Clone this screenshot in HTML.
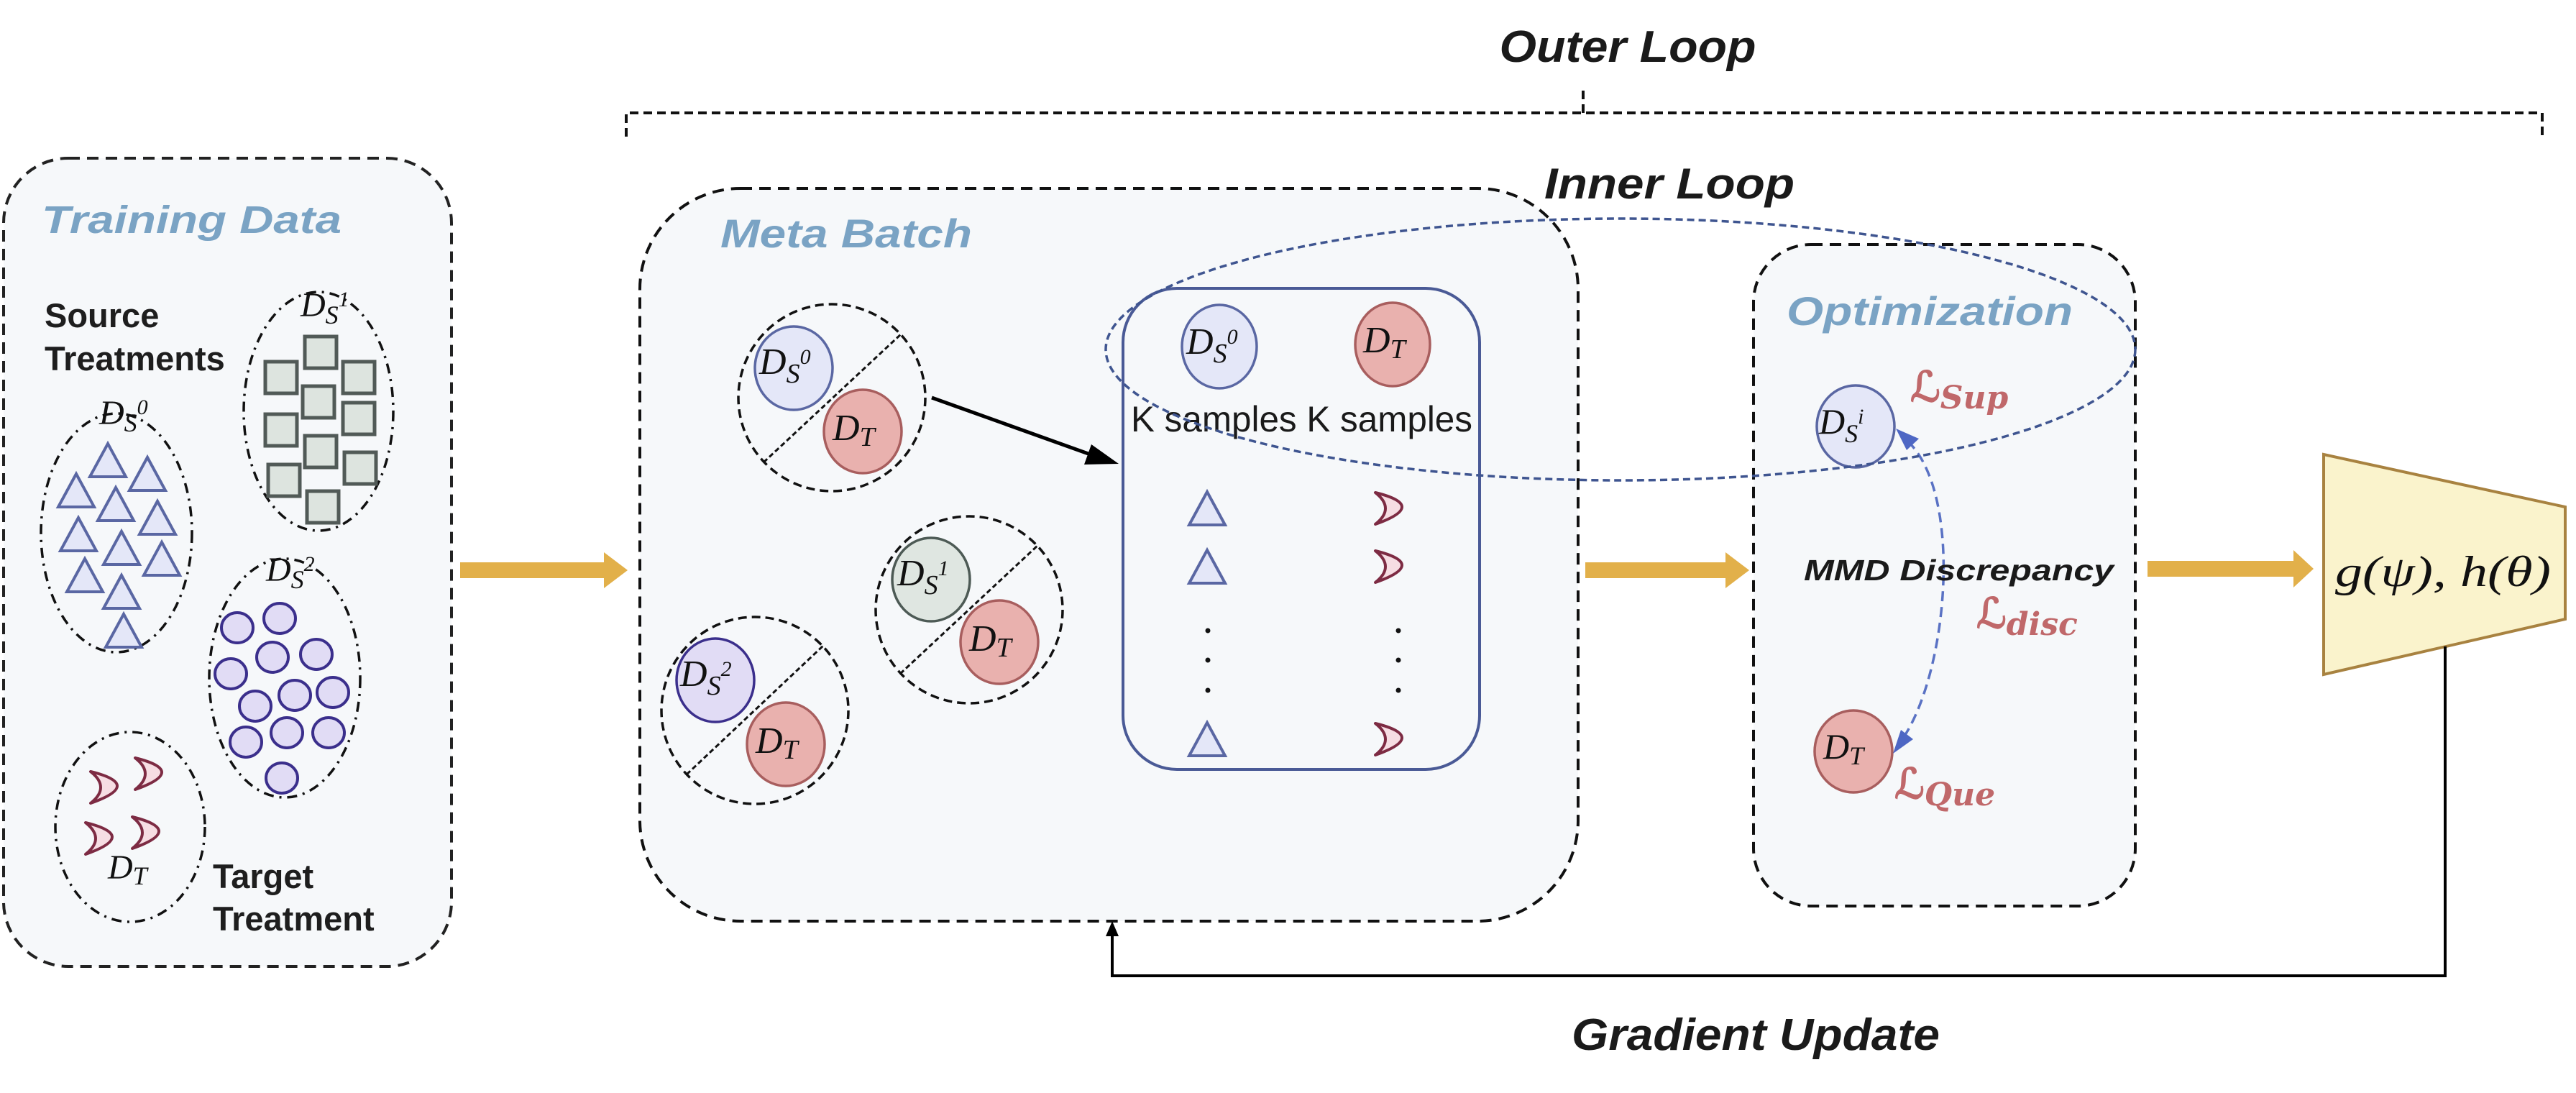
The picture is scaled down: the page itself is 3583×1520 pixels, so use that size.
<!DOCTYPE html>
<html><head><meta charset="utf-8"><style>
html,body{margin:0;padding:0;background:#fff;}
svg{display:block;}
.h{font-family:"Liberation Sans",sans-serif;font-weight:bold;font-style:italic;}
.m{font-family:"Liberation Serif",serif;font-style:italic;}
</style></head><body>
<svg width="3583" height="1520" viewBox="0 0 3583 1520" xmlns="http://www.w3.org/2000/svg">
<defs>
<polygon id="tri" points="0,-23 25,23 -25,23" fill="#e4e7f8" stroke="#5a67a3" stroke-width="4"/>
<path id="moon" d="M-26,-22 Q48,-4 -26,22 Q2,0 -26,-22 Z" fill="#f6dde3" stroke="#7d2b43" stroke-width="4" stroke-linejoin="round"/>
<rect id="sq" x="-22" y="-22" width="44" height="44" fill="#dde4df" stroke="#515a57" stroke-width="5"/>
<ellipse id="cir" rx="22" ry="21" fill="#e1dcf5" stroke="#3b2f8c" stroke-width="4"/>
</defs>

<!-- Outer loop -->
<text class="h" x="2264" y="86" font-size="62" text-anchor="middle" fill="#1a1a1a" textLength="357" lengthAdjust="spacingAndGlyphs">Outer Loop</text>
<path d="M871,190 L871,157 L3536,157 L3536,190 M2202,157 L2202,123" fill="none" stroke="#111" stroke-width="4" stroke-dasharray="12,7"/>

<!-- Training data -->
<rect x="5" y="220" width="623" height="1124" rx="90" fill="#f6f8fa" stroke="#222" stroke-width="4" stroke-dasharray="16,10"/>
<text class="h" x="58" y="324" font-size="54" fill="#7aa3c4" textLength="417" lengthAdjust="spacingAndGlyphs">Training Data</text>
<text font-family="Liberation Sans,sans-serif" font-weight="bold" font-size="47" fill="#1e1e1e" x="62" y="455">Source</text>
<text font-family="Liberation Sans,sans-serif" font-weight="bold" font-size="47" fill="#1e1e1e" x="62" y="515">Treatments</text>
<text font-family="Liberation Sans,sans-serif" font-weight="bold" font-size="47" fill="#1e1e1e" x="296" y="1235">Target</text>
<text font-family="Liberation Sans,sans-serif" font-weight="bold" font-size="47" fill="#1e1e1e" x="296" y="1294">Treatment</text>

<g fill="none" stroke="#111" stroke-width="3.5" stroke-dasharray="14,8,3,8">
<ellipse cx="443" cy="572" rx="104" ry="166"/>
<ellipse cx="162" cy="741" rx="105" ry="166"/>
<ellipse cx="396" cy="943" rx="105" ry="166"/>
<ellipse cx="181" cy="1150" rx="104" ry="132"/>
</g>
<g class="m" font-size="48" fill="#111">
<text x="418" y="440">D<tspan font-size="36" dy="10">S</tspan><tspan font-size="30" dy="-24">1</tspan></text>
<text x="138" y="590">D<tspan font-size="36" dy="10">S</tspan><tspan font-size="30" dy="-24">0</tspan></text>
<text x="370" y="808">D<tspan font-size="36" dy="10">S</tspan><tspan font-size="30" dy="-24">2</tspan></text>
<text x="150" y="1222">D<tspan font-size="36" dy="8">T</tspan></text>
</g>
<g>
<use href="#sq" x="391" y="525"/><use href="#sq" x="446" y="490"/><use href="#sq" x="499" y="525"/>
<use href="#sq" x="443" y="559"/><use href="#sq" x="499" y="582"/><use href="#sq" x="391" y="598"/>
<use href="#sq" x="446" y="628"/><use href="#sq" x="501" y="651"/><use href="#sq" x="395" y="668"/>
<use href="#sq" x="449" y="705"/>
</g>
<g>
<use href="#tri" x="150" y="640"/><use href="#tri" x="205" y="659"/><use href="#tri" x="106" y="682"/>
<use href="#tri" x="161" y="701"/><use href="#tri" x="219" y="720"/><use href="#tri" x="109" y="743"/>
<use href="#tri" x="169" y="762"/><use href="#tri" x="225" y="777"/><use href="#tri" x="118" y="800"/>
<use href="#tri" x="169" y="823"/><use href="#tri" x="172" y="877"/>
</g>
<g>
<use href="#cir" x="330" y="873"/><use href="#cir" x="389" y="860"/><use href="#cir" x="379" y="914"/>
<use href="#cir" x="440" y="910"/><use href="#cir" x="321" y="937"/><use href="#cir" x="355" y="982"/>
<use href="#cir" x="410" y="967"/><use href="#cir" x="463" y="963"/><use href="#cir" x="342" y="1032"/>
<use href="#cir" x="399" y="1019"/><use href="#cir" x="457" y="1019"/><use href="#cir" x="392" y="1082"/>
</g>
<g>
<use href="#moon" x="152" y="1095"/><use href="#moon" x="214" y="1076"/>
<use href="#moon" x="145" y="1166"/><use href="#moon" x="210" y="1158"/>
</g>

<!-- yellow arrows -->
<g fill="#e2b04a">
<polygon points="640,782 840,782 840,768 873,793 840,818 840,804 640,804"/>
<polygon points="2205,782 2400,782 2400,768 2433,793 2400,818 2400,804 2205,804"/>
<polygon points="2987,780 3190,780 3190,765 3218,791 3190,817 3190,802 2987,802"/>
</g>

<!-- Meta batch -->
<rect x="890" y="262" width="1305" height="1019" rx="140" fill="#f6f8fa" stroke="#111" stroke-width="4" stroke-dasharray="16,10"/>
<text class="h" x="1002" y="344" font-size="56" fill="#7aa3c4" textLength="350" lengthAdjust="spacingAndGlyphs">Meta Batch</text>

<g fill="none" stroke="#111" stroke-width="3.5" stroke-dasharray="12,7">
<circle cx="1157" cy="553" r="130"/>
<circle cx="1348" cy="848" r="130"/>
<circle cx="1050" cy="988" r="130"/>
</g>
<g stroke="#111" stroke-width="3" stroke-dasharray="7,4">
<line x1="1062" y1="643" x2="1254" y2="464"/>
<line x1="1252" y1="937" x2="1444" y2="758"/>
<line x1="955" y1="1077" x2="1145" y2="898"/>
</g>
<g stroke-width="3.5">
<ellipse cx="1104" cy="512" rx="54" ry="58" fill="#e4e7f8" stroke="#5a67a3"/>
<ellipse cx="1200" cy="600" rx="54" ry="58" fill="#e9b1ae" stroke="#a85e5e"/>
<ellipse cx="1295" cy="806" rx="54" ry="58" fill="#dfe6e1" stroke="#4d5a55"/>
<ellipse cx="1390" cy="893" rx="54" ry="58" fill="#e9b1ae" stroke="#a85e5e"/>
<ellipse cx="995" cy="946" rx="54" ry="58" fill="#e1dcf5" stroke="#3b2f8c"/>
<ellipse cx="1093" cy="1035" rx="54" ry="58" fill="#e9b1ae" stroke="#a85e5e"/>
</g>
<g class="m" font-size="52" fill="#111">
<text x="1056" y="520">D<tspan font-size="38" dy="12">S</tspan><tspan font-size="30" dy="-26">0</tspan></text>
<text x="1158" y="612">D<tspan font-size="38" dy="8">T</tspan></text>
<text x="1248" y="814">D<tspan font-size="38" dy="12">S</tspan><tspan font-size="30" dy="-26">1</tspan></text>
<text x="1348" y="905">D<tspan font-size="38" dy="8">T</tspan></text>
<text x="946" y="954">D<tspan font-size="38" dy="12">S</tspan><tspan font-size="30" dy="-26">2</tspan></text>
<text x="1051" y="1047">D<tspan font-size="38" dy="8">T</tspan></text>
</g>
<line x1="1296" y1="553" x2="1525" y2="635" stroke="#000" stroke-width="5"/>
<path d="M1518,618 L1556,645 L1508,646 Z" fill="#000"/>

<!-- K box -->
<rect x="1562" y="401" width="496" height="669" rx="75" fill="none" stroke="#4a5a96" stroke-width="4"/>
<ellipse cx="1696" cy="482" rx="52" ry="58" fill="#e4e7f8" stroke="#5a67a3" stroke-width="3.5"/>
<ellipse cx="1937" cy="479" rx="52" ry="58" fill="#e9b1ae" stroke="#a85e5e" stroke-width="3.5"/>
<g class="m" font-size="52" fill="#111">
<text x="1650" y="492">D<tspan font-size="38" dy="12">S</tspan><tspan font-size="30" dy="-26">0</tspan></text>
<text x="1896" y="490">D<tspan font-size="38" dy="8">T</tspan></text>
</g>
<text font-family="Liberation Sans,sans-serif" font-size="50" fill="#1a1a1a" x="1573" y="600" textLength="475" lengthAdjust="spacingAndGlyphs">K samples K samples</text>
<use href="#tri" x="1679" y="707"/><use href="#tri" x="1679" y="788"/><use href="#tri" x="1679" y="1028"/>
<use href="#moon" x="1939" y="707"/><use href="#moon" x="1939" y="788"/><use href="#moon" x="1939" y="1028"/>
<g fill="#111">
<circle cx="1680" cy="877" r="3.5"/><circle cx="1680" cy="918" r="3.5"/><circle cx="1680" cy="960" r="3.5"/>
<circle cx="1945" cy="877" r="3.5"/><circle cx="1945" cy="918" r="3.5"/><circle cx="1945" cy="960" r="3.5"/>
</g>

<!-- Optimization -->
<rect x="2439" y="340" width="531" height="920" rx="80" fill="#f6f8fa" stroke="#111" stroke-width="4" stroke-dasharray="16,10"/>
<text class="h" x="2485" y="452" font-size="56" fill="#7aa3c4" textLength="398" lengthAdjust="spacingAndGlyphs">Optimization</text>
<ellipse cx="2581" cy="593" rx="54" ry="57" fill="#e4e7f8" stroke="#5a67a3" stroke-width="3.5"/>
<ellipse cx="2578" cy="1045" rx="54" ry="57" fill="#e9b1ae" stroke="#a85e5e" stroke-width="3.5"/>
<g class="m" font-size="50" fill="#111">
<text x="2530" y="603">D<tspan font-size="36" dy="12">S</tspan><tspan font-size="30" dy="-26">i</tspan></text>
<text x="2536" y="1055">D<tspan font-size="36" dy="8">T</tspan></text>
</g>
<path d="M2648,1025 C2710,930 2730,690 2655,615" fill="none" stroke="#5a72c4" stroke-width="3.5" stroke-dasharray="14,8"/>
<path d="M2637,596 L2669,610 L2652,626 Z" fill="#4e67c4"/>
<path d="M2633,1048 L2644,1015 L2661,1028 Z" fill="#4e67c4"/>
<text class="h" x="2509" y="807" font-size="41" fill="#1a1a1a" textLength="431" lengthAdjust="spacingAndGlyphs">MMD Discrepancy</text>
<g font-family="DejaVu Serif,Liberation Serif,serif" font-weight="bold" fill="#c0686a">
<text x="2657" y="558" font-size="58">ℒ<tspan font-size="44" dy="10" font-style="italic">Sup</tspan></text>
<text x="2749" y="873" font-size="58">ℒ<tspan font-size="44" dy="10" font-style="italic">disc</tspan></text>
<text x="2635" y="1110" font-size="58">ℒ<tspan font-size="44" dy="10" font-style="italic">Que</tspan></text>
</g>

<!-- Inner loop -->
<text class="h" x="2322" y="276" font-size="60" text-anchor="middle" fill="#1a1a1a" textLength="348" lengthAdjust="spacingAndGlyphs">Inner Loop</text>
<ellipse cx="2254" cy="486" rx="716" ry="182" fill="none" stroke="#3f5590" stroke-width="3.5" stroke-dasharray="10,6"/>

<!-- Model -->
<polygon points="3232,632 3568,705 3568,861 3232,938" fill="#faf3cc" stroke="#a88240" stroke-width="4"/>
<text class="m" x="3398" y="815" font-size="60" text-anchor="middle" fill="#111" textLength="300" lengthAdjust="spacingAndGlyphs">g(ψ), h(θ)</text>

<!-- Gradient update -->
<path d="M3401,899 L3401,1357 L1547,1357 L1547,1300" fill="none" stroke="#000" stroke-width="4"/>
<path d="M1538,1302 L1547,1281 L1556,1302 Z" fill="#000"/>
<text class="h" x="2442" y="1460" font-size="62" text-anchor="middle" fill="#1a1a1a" textLength="512" lengthAdjust="spacingAndGlyphs">Gradient Update</text>
</svg>
</body></html>
